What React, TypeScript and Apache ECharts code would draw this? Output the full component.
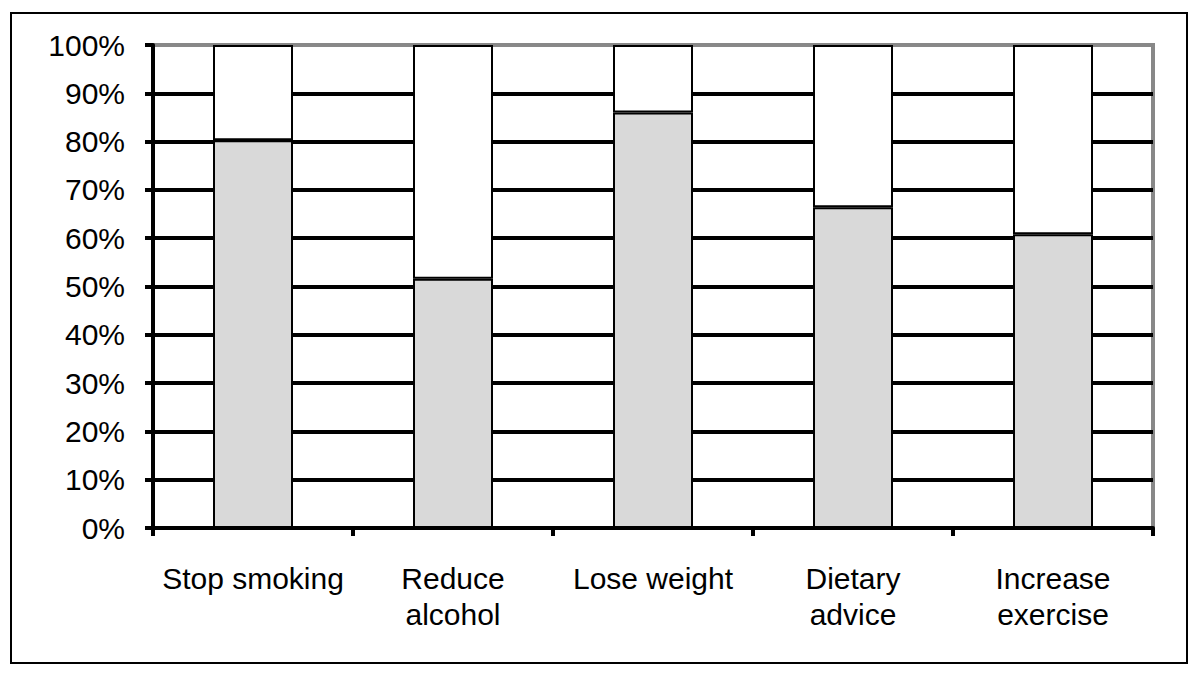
import React, { useEffect, useRef } from "react";
import * as echarts from "echarts";

const categories = ["Stop smoking", "Reduce\nalcohol", "Lose weight", "Dietary\nadvice", "Increase\nexercise"];
const yesValues = [80.3, 51.6, 86, 66.4, 60.8];
const restValues = yesValues.map((v) => +(100 - v).toFixed(1));

export default function App() {
  const ref = useRef<HTMLDivElement>(null);
  useEffect(() => {
    const chart = echarts.init(ref.current!, null, { renderer: "svg" });
    const font = "'Liberation Sans', Arial, sans-serif";
    chart.setOption({
      animation: false,
      backgroundColor: "#fff",
      graphic: [
        {
          type: "rect",
          shape: { x: 11, y: 13, width: 1176, height: 650 },
          style: { fill: "none", stroke: "#000", lineWidth: 2 },
          z: 100,
        },
      ],
      grid: {
        left: 153,
        right: 47,
        top: 45,
        bottom: 148,
        show: true,
        borderColor: "#888",
        borderWidth: 4,
        backgroundColor: "transparent",
      },
      xAxis: {
        type: "category",
        data: categories,
        axisLine: { show: true, lineStyle: { color: "#000", width: 4 } },
        axisTick: { show: true, length: 8, interval: 0, lineStyle: { color: "#000", width: 4 } },
        axisLabel: {
          color: "#000",
          fontFamily: font,
          fontSize: 30,
          lineHeight: 36,
          margin: 32,
          interval: 0,
        },
        splitLine: { show: false },
      },
      yAxis: {
        type: "value",
        min: 0,
        max: 100,
        interval: 10,
        axisLine: { show: true, lineStyle: { color: "#000", width: 4 } },
        axisTick: { show: true, length: 8, lineStyle: { color: "#000", width: 4 } },
        axisLabel: {
          color: "#000",
          fontFamily: font,
          fontSize: 30,
          margin: 28,
          formatter: "{value}%",
        },
        splitLine: { show: true, showMaxLine: false, lineStyle: { color: "#000", width: 4 } },
      },
      series: [
        {
          type: "bar",
          stack: "s",
          data: yesValues,
          barWidth: "40%",
          itemStyle: { color: "#d9d9d9", borderColor: "#000", borderWidth: 2 },
        },
        {
          type: "bar",
          stack: "s",
          data: restValues,
          barWidth: "40%",
          itemStyle: { color: "#fff", borderColor: "#000", borderWidth: 2 },
        },
      ],
    });
    return () => chart.dispose();
  }, []);
  return (
    <div
      ref={ref}
      style={{ position: "absolute", left: 0, top: 0, width: 1200, height: 676 }}
    />
  );
}
